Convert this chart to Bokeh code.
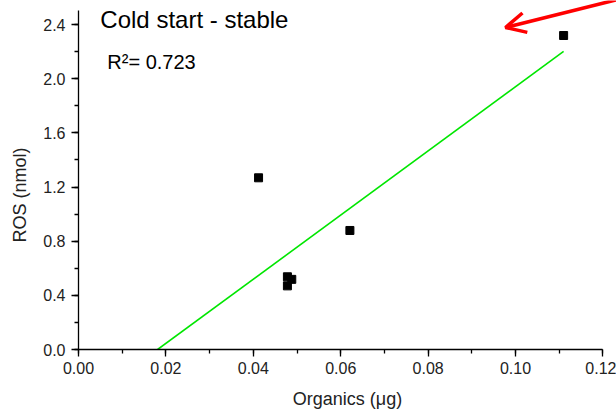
from bokeh.plotting import figure
from bokeh.models import (Label, Arrow, OpenHead, SingleIntervalTicker,
                          PrintfTickFormatter, Range1d, Title)
from bokeh.embed import file_html
from bokeh.resources import INLINE

# data
organics = [0.0412, 0.0621, 0.0478, 0.0488, 0.0478, 0.1110]
ros = [1.268, 0.879, 0.537, 0.518, 0.470, 2.319]

# fitted line end points
fit_x = [0.0181, 0.1110]
fit_y = [0.0, 2.201]

title_text = "Cold start - stable"
r2_text = "R\u00b2= 0.723"
x_label = "Organics (\u03bcg)"
y_label = "ROS (nmol)"

x_ticks_bounds = (0, 0.12)
y_ticks_bounds = (0, 2.5)

# red arrow (annotation) end points
arrow_tail = (0.1252, 2.60)
arrow_tip = (0.0977, 2.378)

FONT = "Liberation Sans"

p = figure(width=616, height=413, output_backend="svg", toolbar_location=None,
           x_range=Range1d(0, 0.1231), y_range=Range1d(0, 2.5775),
           min_border_left=78, min_border_right=0, min_border_top=0,
           min_border_bottom=64)
p.outline_line_color = None
p.grid.visible = False
p.background_fill_color = "white"
p.border_fill_color = "white"

p.xaxis.ticker = SingleIntervalTicker(interval=0.02, num_minor_ticks=2)
p.yaxis.ticker = SingleIntervalTicker(interval=0.4, num_minor_ticks=2)
p.xaxis.formatter = PrintfTickFormatter(format="%.2f")
p.yaxis.formatter = PrintfTickFormatter(format="%.1f")
p.xaxis.bounds = x_ticks_bounds
p.yaxis.bounds = y_ticks_bounds

for ax in (p.xaxis[0], p.yaxis[0]):
    ax.axis_line_color = "black"
    ax.axis_line_width = 1.3
    ax.major_tick_line_color = "black"
    ax.major_tick_line_width = 1.3
    ax.minor_tick_line_color = "black"
    ax.minor_tick_line_width = 1.3
    ax.major_tick_in = 0
    ax.major_tick_out = 7
    ax.minor_tick_in = 0
    ax.minor_tick_out = 4
    ax.major_label_text_font = FONT
    ax.major_label_text_font_size = "16px"
    ax.major_label_text_color = "#222222"

p.yaxis.major_label_standoff = 6
p.xaxis.major_label_standoff = 5
p.xaxis.axis_label = x_label
p.xaxis.axis_label_text_font = FONT
p.xaxis.axis_label_text_font_size = "18px"
p.xaxis.axis_label_text_font_style = "normal"
p.xaxis.axis_label_text_color = "#222222"
p.xaxis.axis_label_standoff = 12

# y-axis title placed in the left panel (lower than centre, as in the reference)
p.add_layout(Title(text=y_label, align="left", offset=107,
                   vertical_align="top", standoff=17,
                   text_font=FONT, text_font_size="18px",
                   text_font_style="normal", text_color="#222222"), "left")

p.line(fit_x, fit_y, line_color="#00e600", line_width=1.6)
p.scatter(organics, ros, marker="square", size=8, fill_color="black",
          line_color="black")

p.add_layout(Label(x=0.0050, y=2.435, text=title_text, text_align="left",
                   text_baseline="alphabetic", text_font=FONT,
                   text_font_size="24px", text_color="black"))
p.add_layout(Label(x=0.0066, y=2.12, text=r2_text, text_align="left",
                   text_baseline="alphabetic", text_font=FONT,
                   text_font_size="20px", text_color="black"))

p.add_layout(Arrow(x_start=arrow_tail[0], y_start=arrow_tail[1],
                   x_end=arrow_tip[0], y_end=arrow_tip[1],
                   line_color="#ff0000", line_width=3.5,
                   end=OpenHead(size=20, line_color="#ff0000", line_width=3.5)))

open("out.html", "w").write(file_html(p, INLINE))
